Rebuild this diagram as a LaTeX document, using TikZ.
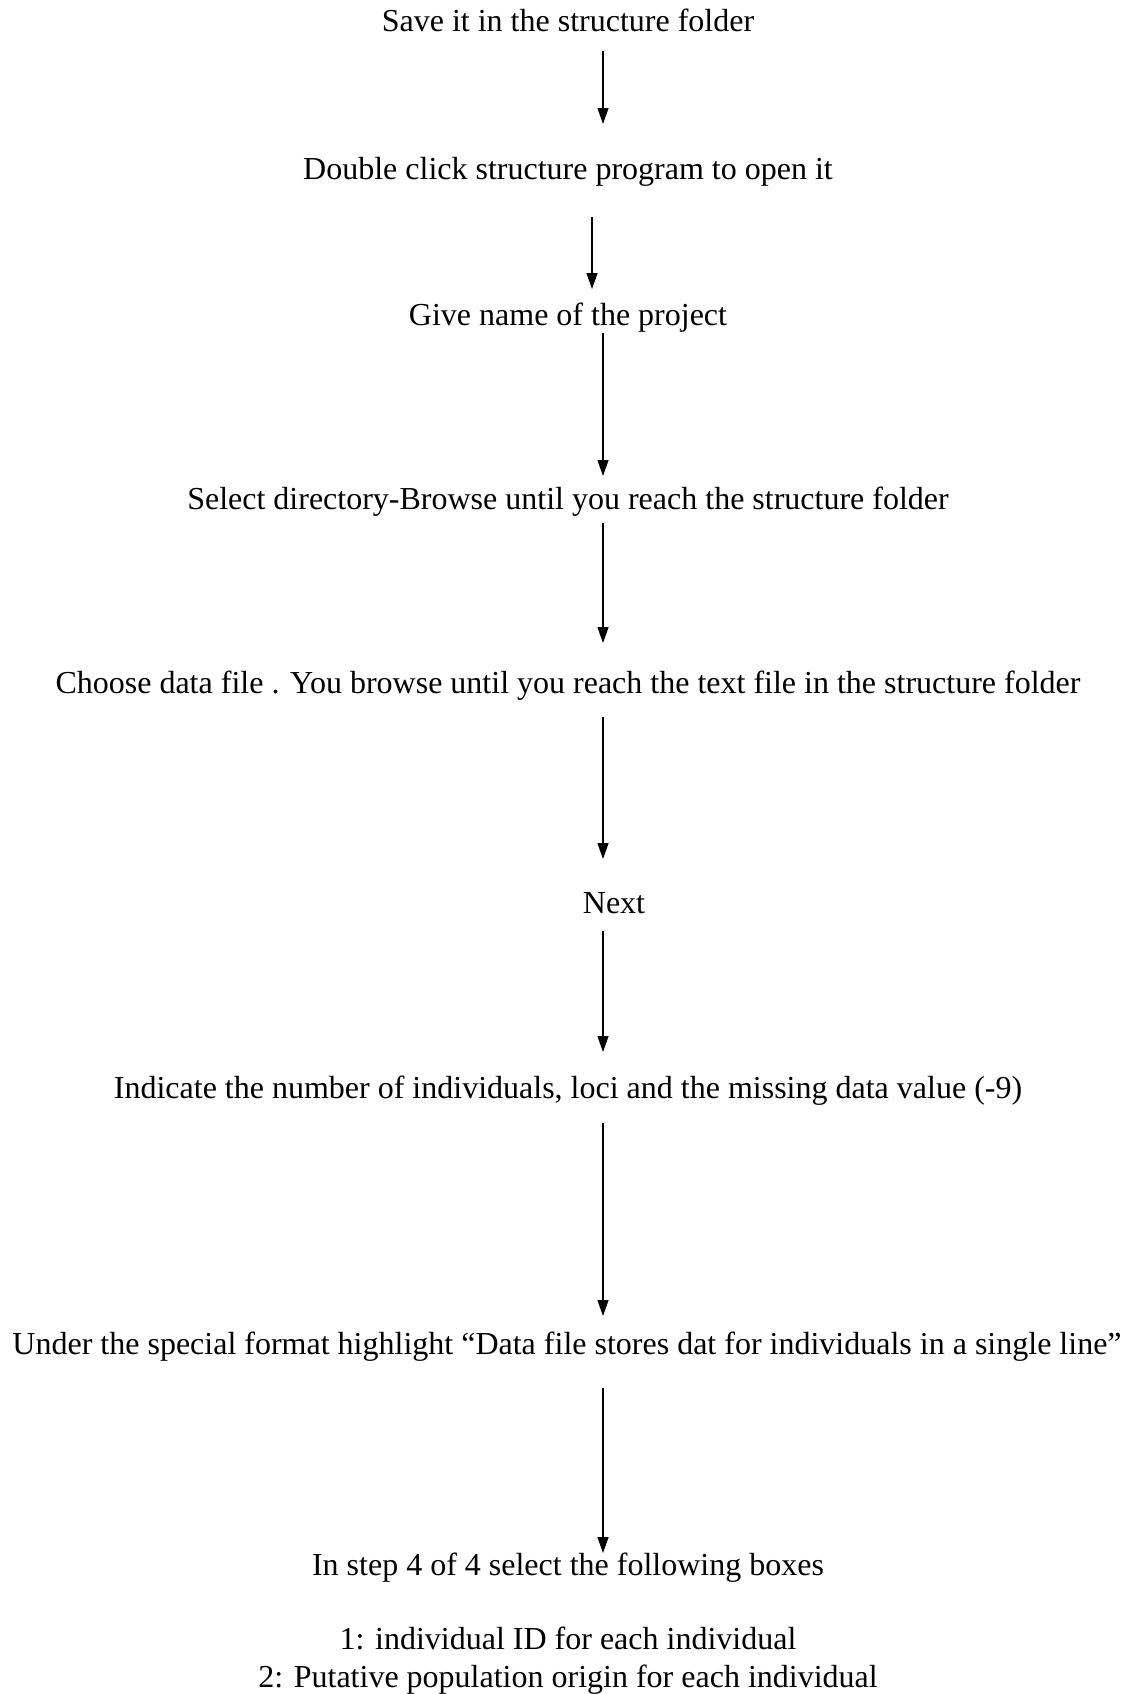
\documentclass[tikz,border=0pt]{standalone}
\usepackage{fontspec}
\setmainfont{Liberation Serif}
\usetikzlibrary{arrows.meta}
\begin{document}
\begin{tikzpicture}[x=1pt,y=-1pt,
  lbl/.style={anchor=base,inner sep=0pt,font=\fontsize{32}{38}\selectfont},
  arr/.style={line width=1.3pt,-{Triangle[length=16pt,width=11pt]}}]
\useasboundingbox (0,0) rectangle (1126,1694);
\node[lbl] (t1) at (568,32) {Save it in the structure folder};
\node[lbl] (t2) at (568,179) {Double click structure program to open it};
\node[lbl] (t3) at (568,325) {Give name of the project};
\node[lbl] (t4) at (568,509) {Select directory-Browse until you reach the structure folder};
\node[lbl] (t5) at (568,693) {Choose data file . You browse until you reach the text file in the structure folder};
\node[lbl] (t6) at (614,913) {Next};
\node[lbl] (t7) at (568,1098) {Indicate the number of individuals, loci and the missing data value (-9)};
\node[lbl] (t8) at (567,1354) {Under the special format highlight “Data file stores dat for individuals in a single line”};
\node[lbl] (t9) at (568,1575) {In step 4 of 4 select the following boxes};
\node[lbl] (t10) at (568,1649) {1: individual ID for each individual};
\node[lbl] (t11) at (568,1687) {2: Putative population origin for each individual};
\coordinate (a1s) at (603,51);   \coordinate (a1e) at (603,124);
\coordinate (a2s) at (592,217);  \coordinate (a2e) at (592,289);
\coordinate (a3s) at (603,333);  \coordinate (a3e) at (603,476);
\coordinate (a4s) at (603,523);  \coordinate (a4e) at (603,643);
\coordinate (a5s) at (603,717);  \coordinate (a5e) at (603,859);
\coordinate (a6s) at (603,931);  \coordinate (a6e) at (603,1052);
\coordinate (a7s) at (603,1123); \coordinate (a7e) at (603,1316);
\coordinate (a8s) at (603,1388); \coordinate (a8e) at (603,1553);
\foreach \i in {1,...,8} \draw[arr] (a\i s) -- (a\i e);
\end{tikzpicture}
\end{document}
